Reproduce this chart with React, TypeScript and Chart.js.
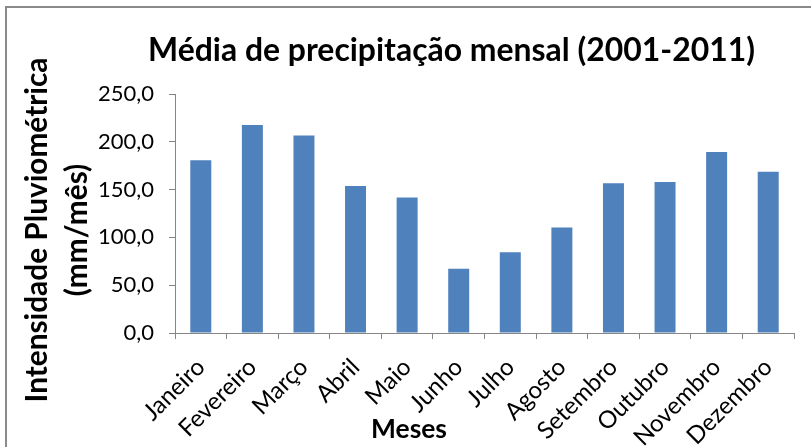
import React, { useEffect, useRef } from "react";
import { Chart, registerables } from "chart.js";

Chart.register(...registerables);

const months = [
  "Janeiro",
  "Fevereiro",
  "Março",
  "Abril",
  "Maio",
  "Junho",
  "Julho",
  "Agosto",
  "Setembro",
  "Outubro",
  "Novembro",
  "Dezembro",
];
const precipitation = [180.7, 217.6, 206.6, 153.8, 141.7, 67.2, 84.5, 110.3, 156.6, 157.9, 189.3, 168.6];
const yMin = 0;
const yMax = 250;
const yStep = 50;
const chartTitle = "Média de precipitação mensal (2001-2011)";
const yTitleLines = ["Intensidade Pluviométrica", "(mm/mês)"];
const xTitle = "Meses";

const FAMILY = "Lato, 'Noto Sans', sans-serif";
const AXIS_GRAY = "#868686";

function fitSize(ctx: CanvasRenderingContext2D, text: string, weight: string, target: number) {
  ctx.font = `${weight} 100px ${FAMILY}`;
  const w = ctx.measureText(text).width;
  return (100 * target) / w;
}

const titlesPlugin = {
  id: "excelTitles",
  afterDraw(chart: any) {
    const ctx: CanvasRenderingContext2D = chart.ctx;
    ctx.save();
    ctx.fillStyle = "#000";
    ctx.textAlign = "center";
    ctx.textBaseline = "alphabetic";

    // Main title
    const ts = fitSize(ctx, chartTitle, "bold", 607);
    ctx.font = `bold ${ts}px ${FAMILY}`;
    ctx.fillText(chartTitle, 451.5, 61);

    // X axis title
    const xs = fitSize(ctx, xTitle, "bold", 76);
    ctx.font = `bold ${xs}px ${FAMILY}`;
    ctx.fillText(xTitle, 409, 438);

    // Y axis title (two lines, rotated)
    const ys = fitSize(ctx, yTitleLines[0], "bold", 345);
    ctx.font = `bold ${ys}px ${FAMILY}`;
    const baselines = [47, 87];
    yTitleLines.forEach((line, i) => {
      ctx.save();
      ctx.translate(baselines[i], 230);
      ctx.rotate(-Math.PI / 2);
      ctx.fillText(line, 0, 0);
      ctx.restore();
    });
    ctx.restore();
  },
};

export default function App() {
  const canvasRef = useRef<HTMLCanvasElement | null>(null);

  useEffect(() => {
    document.body.style.margin = "0";
    const canvas = canvasRef.current;
    if (!canvas) return;
    const chart = new Chart(canvas, {
      type: "bar",
      data: {
        labels: months,
        datasets: [
          {
            data: precipitation,
            backgroundColor: "#4F81BD",
            borderWidth: 0,
            barPercentage: 0.407,
            categoryPercentage: 1,
          },
        ],
      },
      options: {
        responsive: false,
        animation: false,
        devicePixelRatio: 1,
        layout: { padding: { top: 94, right: 17, bottom: 0, left: 0 } },
        plugins: {
          legend: { display: false },
          title: { display: false },
          tooltip: { enabled: false },
        },
        scales: {
          x: {
            grid: {
              display: true,
              drawOnChartArea: false,
              drawTicks: true,
              tickLength: 6,
              color: AXIS_GRAY,
              offset: true,
            },
            border: { display: true, color: AXIS_GRAY, width: 1 },
            ticks: {
              minRotation: 45,
              maxRotation: 45,
              autoSkip: false,
              padding: 14,
              color: "#000",
              font: { family: FAMILY, size: 24 },
            },
            afterFit: (s: any) => {
              s.height = 114;
            },
          },
          y: {
            min: yMin,
            max: yMax,
            grid: {
              display: true,
              drawOnChartArea: false,
              drawTicks: true,
              tickLength: 6,
              color: AXIS_GRAY,
            },
            border: { display: true, color: AXIS_GRAY, width: 1 },
            ticks: {
              stepSize: yStep,
              padding: 15,
              color: "#000",
              font: { family: FAMILY, size: 22 },
              callback: (v: any) => Number(v).toFixed(1).replace(".", ","),
            },
            afterFit: (s: any) => {
              s.width = 175;
            },
          },
        },
      },
      plugins: [titlesPlugin],
    });
    return () => chart.destroy();
  }, []);

  return (
    <div style={{ position: "relative", width: 811, height: 447, overflow: "hidden", background: "#fff" }}>
      <canvas ref={canvasRef} width={811} height={447} style={{ display: "block" }} />
      <div
        style={{
          position: "absolute",
          left: 5,
          top: 6,
          width: 900,
          height: 600,
          border: "2px solid #8a8a8a",
          pointerEvents: "none",
        }}
      />
    </div>
  );
}
